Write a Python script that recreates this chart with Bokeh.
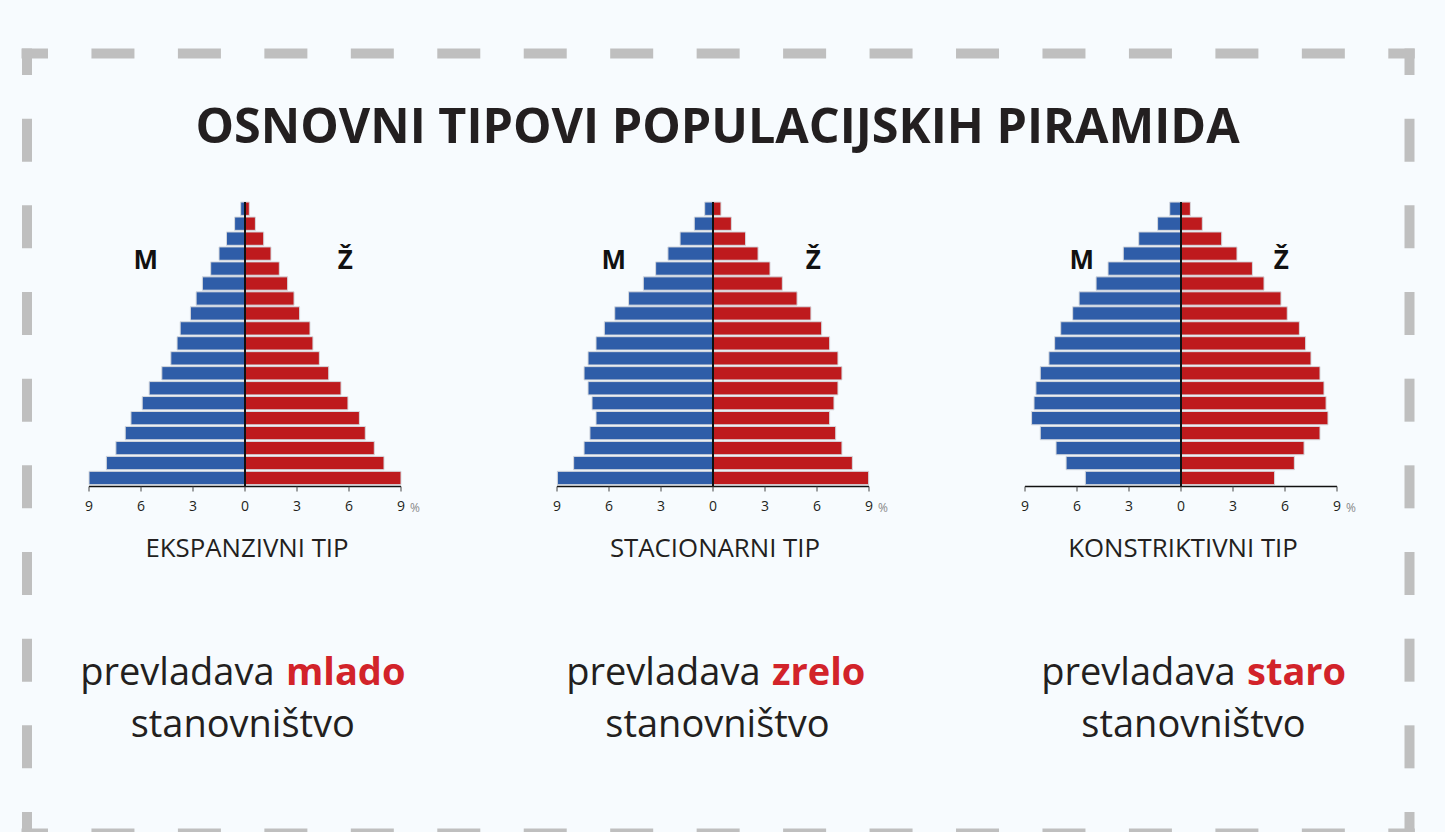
import numpy as np
from bokeh.plotting import figure
from bokeh.models import Range1d
from bokeh.core.properties import value
from bokeh.embed import file_html
from bokeh.resources import INLINE

# ---------------- data (top age group first as read, reversed below) ----------------
age_groups = ["0-4", "5-9", "10-14", "15-19", "20-24", "25-29", "30-34", "35-39", "40-44",
              "45-49", "50-54", "55-59", "60-64", "65-69", "70-74", "75-79", "80-84", "85-89", "90+"]

ekspanzivni_m_top = [0.25, 0.6, 1.07, 1.5, 1.98, 2.46, 2.82, 3.15, 3.74, 3.92, 4.28, 4.8, 5.53, 5.93, 6.58, 6.91, 7.45, 8.0, 9.0]
ekspanzivni_z_top = [0.25, 0.6, 1.08, 1.5, 1.98, 2.46, 2.83, 3.15, 3.75, 3.92, 4.29, 4.83, 5.54, 5.94, 6.6, 6.94, 7.46, 8.02, 9.0]

stacionarni_m_top = [0.48, 1.08, 1.9, 2.6, 3.31, 4.02, 4.87, 5.67, 6.27, 6.75, 7.21, 7.44, 7.21, 6.98, 6.75, 7.1, 7.44, 8.04, 8.98]
stacionarni_z_top = [0.46, 1.06, 1.88, 2.6, 3.29, 4.0, 4.85, 5.65, 6.27, 6.73, 7.21, 7.44, 7.21, 6.98, 6.73, 7.08, 7.44, 8.04, 8.98]

konstriktivni_m_top = [0.65, 1.35, 2.44, 3.33, 4.21, 4.9, 5.88, 6.25, 6.94, 7.29, 7.62, 8.12, 8.37, 8.48, 8.62, 8.12, 7.21, 6.63, 5.52]
konstriktivni_z_top = [0.54, 1.23, 2.35, 3.23, 4.12, 4.79, 5.77, 6.13, 6.83, 7.19, 7.5, 8.02, 8.25, 8.37, 8.48, 8.02, 7.1, 6.54, 5.4]

tick_values = [-9, -6, -3, 0, 3, 6, 9]
tick_labels = ["9", "6", "3", "0", "3", "6", "9"]

title_text = "OSNOVNI TIPOVI POPULACIJSKIH PIRAMIDA"
type_names = ["EKSPANZIVNI TIP", "STACIONARNI TIP", "KONSTRIKTIVNI TIP"]
dominant_words = ["mlado", "zrelo", "staro"]

male_sets = [ekspanzivni_m_top[::-1], stacionarni_m_top[::-1], konstriktivni_m_top[::-1]]
female_sets = [ekspanzivni_z_top[::-1], stacionarni_z_top[::-1], konstriktivni_z_top[::-1]]

# ---------------- layout / style ----------------
W, H = 1445, 832
OFF = 0
BG = "#f7fbfe"
TXT = "#231f20"
BLUE = "#2f5da8"
RED = "#be1a1d"
WORD_RED = "#d2232a"
BORDER = "#bfbfbf"
FONT = "Open Sans"
BASE_FIX = 0.4   # empirical shift of the alphabetic baseline (fraction of font size)

def by(y, fs):
    return y - BASE_FIX * fs

panel_zero = [244.5, 712.5, 1180.5]       # page px of the 0 line
half_w = 156.0                            # px from 0 to 9 %
bar_y0, bar_dy = 477.5, 14.96             # page px of first bar centre, spacing
axis_y = 486.0

p = figure(width=W, height=H, x_range=Range1d(OFF, OFF + W), y_range=Range1d(OFF + H, OFF),
           output_backend="svg", toolbar_location=None, min_border=0,
           background_fill_color=BG, border_fill_color=BG)
p.axis.visible = False
p.grid.visible = False
p.outline_line_color = None

p.extra_y_ranges["age"] = Range1d(start=(bar_y0 - (OFF + H)) / bar_dy, end=(bar_y0 - OFF) / bar_dy)

# ---------------- dashed border ----------------
def dashed_side(a0, a1, n, arm=26.5, dash=43.0):
    segs = [(a0, a0 + arm)]
    inner0, inner1 = a0 + arm, a1 - arm
    gap = (inner1 - inner0 - n * dash) / (n + 1)
    s = inner0 + gap
    for _ in range(n):
        segs.append((s, s + dash))
        s += dash + gap
    segs.append((a1 - arm, a1))
    return segs

bl, br, bt, bb = [], [], [], []
for a, b in dashed_side(21.0, 1414.3, 15):
    for yc in (53.0, 833.0):
        bl.append(a); br.append(b); bt.append(yc - 5); bb.append(yc + 5)
for a, b in dashed_side(48.0, 838.0, 8):
    for xc in (26.5, 1409.0):
        bl.append(xc - 5); br.append(xc + 5); bt.append(a); bb.append(b)
p.quad(left=bl, right=br, top=bt, bottom=bb, fill_color=BORDER, line_color=None)

# ---------------- title ----------------
p.text(x=[717], y=[by(143.3, 48.5)], text=[title_text], text_align="center", text_baseline="alphabetic",
       text_font=value(FONT), text_font_style="bold", text_font_size="48.5px", text_color=TXT)

# ---------------- pyramids ----------------
idx = np.arange(len(age_groups))
u = 9.0 / half_w
for i in range(3):
    cx = panel_zero[i]
    rn = f"p{i}"
    p.extra_x_ranges[rn] = Range1d(start=(OFF - cx) * u, end=(OFF + W - cx) * u)
    m = np.array(male_sets[i]); z = np.array(female_sets[i])
    p.hbar(y=idx, left=-m, right=0, height=0.89, x_range_name=rn, y_range_name="age",
           fill_color=BLUE, line_color="#d6d9de", line_width=1)
    p.hbar(y=idx, left=0, right=z, height=0.89, x_range_name=rn, y_range_name="age",
           fill_color=RED, line_color="#d6d9de", line_width=1)
    # centre line
    p.segment(x0=[0], y0=[-0.6], x1=[0], y1=[len(age_groups) - 1 + 0.45], x_range_name=rn,
              y_range_name="age", line_color="#111111", line_width=2)
    # axis line, ticks, labels
    p.segment(x0=[tick_values[0]], y0=[axis_y], x1=[tick_values[-1]], y1=[axis_y], x_range_name=rn,
              line_color="#111111", line_width=1.5)
    p.segment(x0=tick_values, y0=[axis_y] * 7, x1=tick_values, y1=[axis_y + 5] * 7, x_range_name=rn,
              line_color="#444444", line_width=1)
    p.text(x=tick_values, y=[by(511.5, 14)] * 7, text=tick_labels, x_range_name=rn, text_align="center",
           text_baseline="alphabetic", text_font=value(FONT), text_font_size="14px", text_color=TXT)
    p.text(x=[tick_values[-1]], y=[by(511.5, 12)], text=["%"], x_offset=9, x_range_name=rn, text_align="left",
           text_baseline="alphabetic", text_font=value(FONT), text_font_size="12px", text_color="#8a8a8a")
    # M / Ž labels
    p.text(x=[-5.73, 5.78], y=[by(269, 26)] * 2, text=["M", "Ž"], x_range_name=rn, text_align="center",
           text_baseline="alphabetic", text_font=value(FONT), text_font_style="bold",
           text_font_size="26px", text_color="#111111")
    # type name
    p.text(x=[0], y=[by(557.3, 25.8)], text=[type_names[i]], x_offset=2, x_range_name=rn, text_align="center",
           text_baseline="alphabetic", text_font=value(FONT), text_font_size="25.8px", text_color=TXT)

# ---------------- bottom captions ----------------
group_center = [242.3, 717.0, 1193.0]
split_px = [274.0, 760.0, 1235.0]
FS_B = 38
p.text(x=split_px, y=[by(685, FS_B)] * 3, text=["prevladava"] * 3, text_align="right", text_baseline="alphabetic",
       text_font=value(FONT), text_font_size=f"{FS_B}px", text_color=TXT)
p.text(x=[s + 11.5 for s in split_px], y=[by(685, FS_B)] * 3, text=dominant_words, text_align="left",
       text_baseline="alphabetic", text_font=value(FONT), text_font_style="bold",
       text_font_size=f"{FS_B}px", text_color=WORD_RED)
p.text(x=group_center, y=[by(737, FS_B)] * 3, text=["stanovništvo"] * 3, text_align="center",
       text_baseline="alphabetic", text_font=value(FONT), text_font_size=f"{FS_B}px", text_color=TXT)

tmpl = "{% block postamble %}<style>html,body{background:" + BG + ";}</style>{% endblock %}"
try:
    html = file_html(p, INLINE, title="Populacijske piramide", template=tmpl)
except Exception:
    html = file_html(p, INLINE, title="Populacijske piramide")
open("out.html", "w").write(html)
